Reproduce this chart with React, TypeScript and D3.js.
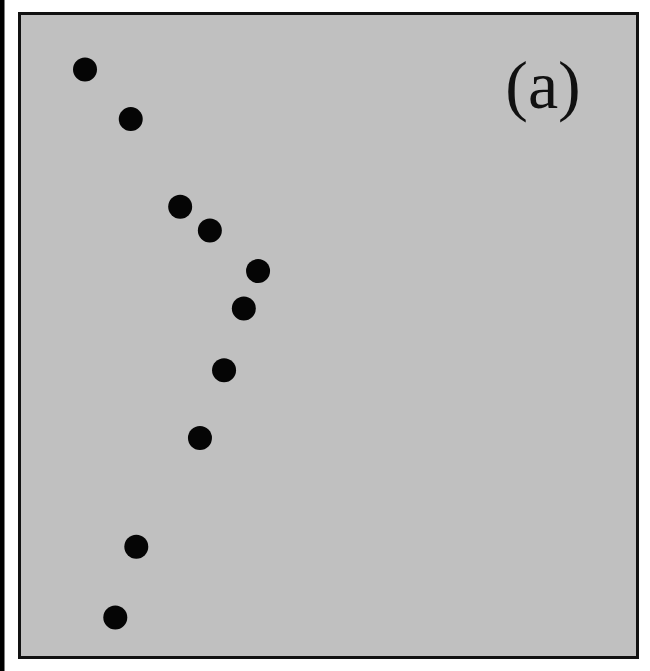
import React, { useEffect, useRef } from "react";
import * as d3 from "d3";

// values, in panel units (0..10 each way)
const xValues = [1.06, 1.8, 2.6, 3.08, 3.86, 3.63, 3.31, 2.92, 1.89, 1.55];
const yValues = [9.13, 8.36, 7.0, 6.63, 6.0, 5.42, 4.46, 3.41, 1.72, 0.62];
const panelLabel = "(a)";

const W = 650;
const H = 671;

export default function App() {
  const ref = useRef<SVGSVGElement | null>(null);

  useEffect(() => {
    const svg = d3.select(ref.current);
    svg.selectAll("*").remove();

    // panel box
    const left = 19.5, right = 637.5, top = 13.5, bottom = 657.5;

    const x = d3.scaleLinear().domain([0, 10]).range([left, right]);
    const y = d3.scaleLinear().domain([0, 10]).range([bottom, top]);

    svg.append("rect").attr("width", W).attr("height", H).attr("fill", "#fff");
    svg.append("rect").attr("width", 4.5).attr("height", H).attr("fill", "#000");

    svg.append("rect")
      .attr("x", left)
      .attr("y", top)
      .attr("width", right - left)
      .attr("height", bottom - top)
      .attr("fill", "#c0c0c0")
      .attr("stroke", "#111")
      .attr("stroke-width", 3);

    const pts = xValues.map((v, i) => ({ x: v, y: yValues[i] }));

    svg.append("g")
      .selectAll("circle")
      .data(pts)
      .enter()
      .append("circle")
      .attr("cx", d => x(d.x))
      .attr("cy", d => y(d.y))
      .attr("r", 12)
      .attr("fill", "#050505");

    svg.append("text")
      .attr("x", 543)
      .attr("y", 108)
      .attr("text-anchor", "middle")
      .style("font-family", "'Liberation Serif', 'DejaVu Serif', serif")
      .style("font-size", "68px")
      .attr("fill", "#111")
      .text(panelLabel);
  }, []);

  return (
    <svg
      ref={ref}
      width={W}
      height={H}
      style={{ position: "absolute", left: 0, top: 0, display: "block" }}
    />
  );
}
